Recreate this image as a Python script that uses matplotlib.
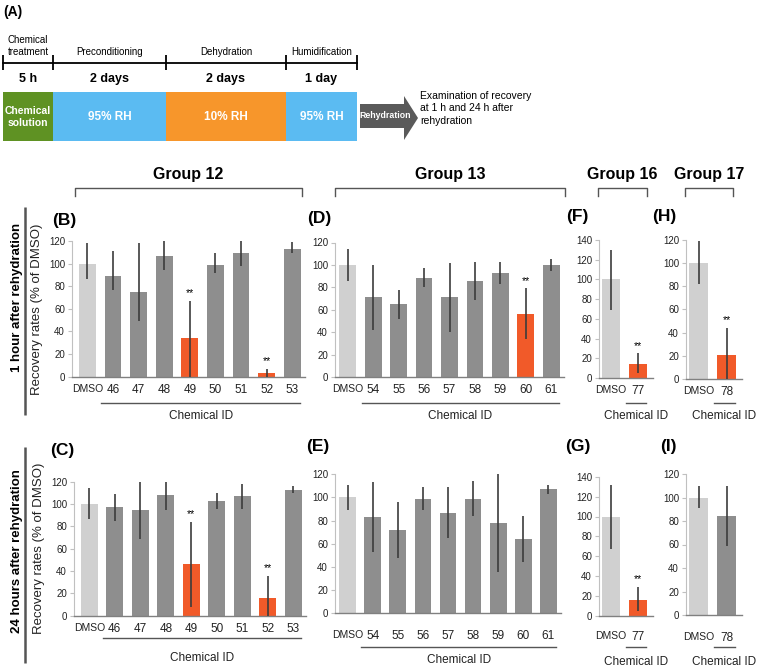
import numpy as np
import matplotlib
matplotlib.use("Agg")
import matplotlib.pyplot as plt
import matplotlib.transforms as mtransforms
from matplotlib.patches import Rectangle, Polygon

plt.rcParams['font.family'] = ['Liberation Sans', 'DejaVu Sans']

# ---- (A) schedule ----
stage_names = ["Chemical\ntreatment", "Preconditioning", "Dehydration", "Humidification"]
stage_times = ["5 h", "2 days", "2 days", "1 day"]
stage_conds = ["Chemical\nsolution", "95% RH", "10% RH", "95% RH"]
stage_colors = ["#5f9223", "#5bbbf2", "#f7962b", "#5bbbf2"]

# ---- recovery rates (% of DMSO), error bar lower / upper ends ----
ids_12 = ["DMSO", "46", "47", "48", "49", "50", "51", "52", "53"]
g12_1h = [100, 89, 75, 107, 34, 99, 109, 3, 113]
g12_1h_lo = [86, 77, 49, 94, 0, 92, 98, 0, 109]
g12_1h_hi = [118, 111, 118, 121, 67, 109, 121, 6.5, 119]
g12_1h_sig = [0, 0, 0, 0, 1, 0, 0, 1, 0]

g12_24h = [100, 97, 95, 108, 46, 103, 107, 16, 113]
g12_24h_lo = [87, 85, 69, 95, 8, 96, 96, 0, 110]
g12_24h_hi = [114, 109, 121, 121, 84, 110, 118, 36, 116]
g12_24h_sig = [0, 0, 0, 0, 1, 0, 0, 1, 0]

ids_13 = ["DMSO", "54", "55", "56", "57", "58", "59", "60", "61"]
g13_1h = [100, 71, 65, 88, 71, 86, 93, 56, 100]
g13_1h_lo = [86, 42, 52, 80, 40, 69, 83, 34, 95]
g13_1h_hi = [114, 100, 78, 97, 102, 103, 103, 79, 105]
g13_1h_sig = [0, 0, 0, 0, 0, 0, 0, 1, 0]

g13_24h = [100, 83, 72, 99, 87, 99, 78, 64, 107]
g13_24h_lo = [89, 53, 48, 89, 65, 84, 36, 44, 103]
g13_24h_hi = [111, 113, 96, 109, 109, 114, 121, 84, 111]
g13_24h_sig = [0, 0, 0, 0, 0, 0, 0, 0, 0]

ids_16 = ["DMSO", "77"]
g16_1h = [100, 14.5]
g16_1h_lo = [69, 5]
g16_1h_hi = [130, 25]
g16_1h_sig = [0, 1]
g16_24h = [100, 16]
g16_24h_lo = [67, 5]
g16_24h_hi = [132, 29]
g16_24h_sig = [0, 1]

ids_17 = ["DMSO", "78"]
g17_1h = [100, 21]
g17_1h_lo = [82, 0]
g17_1h_hi = [119, 44]
g17_1h_sig = [0, 1]
g17_24h = [100, 84]
g17_24h_lo = [91, 59]
g17_24h_hi = [110, 110]
g17_24h_sig = [0, 0]

C_DMSO = "#d0d0d0"
C_BAR = "#8e8e8e"
C_SIG = "#f15a29"

W, H = 762, 668
fig = plt.figure(figsize=(W / 100, H / 100), dpi=100)

# overlay in pixel units for the schematic and annotations
ov = fig.add_axes([0, 0, 1, 1])
ov.set_xlim(0, W)
ov.set_ylim(H, 0)
ov.set_autoscale_on(False)
ov.axis('off')


def panel(l, t, r, b):
    ax = fig.add_axes([l / W, 1 - b / H, (r - l) / W, (b - t) / H])
    ax.set_facecolor('none')
    return ax


def draw_bars(ax, ids, mean, lo, hi, sig, ymax, xlim, pad, line_y, text_y):
    x = np.arange(len(ids))
    mean = np.asarray(mean, float)
    lo = np.asarray(lo, float)
    hi = np.asarray(hi, float)
    colors = [C_DMSO if s == "DMSO" else (C_SIG if g else C_BAR) for s, g in zip(ids, sig)]
    ax.bar(x, mean, width=0.66, color=colors, zorder=2)
    ax.errorbar(x, mean, yerr=[mean - lo, hi - mean], fmt='none', ecolor='#3c3c3c',
                elinewidth=1.2, capsize=0, zorder=3)
    for xi, g, h in zip(x, sig, hi):
        if g:
            ax.annotate("**", (xi, h), xytext=(0, 2), textcoords='offset points',
                        ha='center', va='bottom', fontsize=7.5)
    ax.set_xlim(*xlim)
    ax.set_ylim(0, ymax)
    ax.set_yticks(np.arange(0, ymax + 1, 20))
    ax.set_xticks(x)
    labels = ax.set_xticklabels(ids)
    for lbl in labels:
        lbl.set_fontsize(7.5 if lbl.get_text() == "DMSO" else 8.5)
    ax.tick_params(axis='y', length=3, width=0.8, color='#c0c0c0', labelsize=7,
                   pad=2, labelcolor='#222222')
    ax.tick_params(axis='x', length=0, pad=pad, labelcolor='#222222')
    for s in ['top', 'right']:
        ax.spines[s].set_visible(False)
    ax.spines['left'].set_color('#c0c0c0')
    ax.spines['left'].set_linewidth(0.8)
    ax.spines['bottom'].set_color('#808080')
    ax.spines['bottom'].set_linewidth(1.0)
    # "Chemical ID" underline
    trans = mtransforms.blended_transform_factory(ax.transData, ov.transData)
    x0, x1 = 0.55, len(ids) - 0.7
    ov.plot([x0, x1], [line_y, line_y], color='#555555', lw=1.0, transform=trans)
    ov.text((x0 + x1) / 2, text_y, "Chemical ID", transform=trans, ha='center',
            va='center', fontsize=8.5, color='#222222')


axB = panel(72, 241, 305, 376.7)
draw_bars(axB, ids_12, g12_1h, g12_1h_lo, g12_1h_hi, g12_1h_sig, 120, (-0.6, 8.5), 5, 403, 416)
axC = panel(74, 481.7, 306, 615.7)
draw_bars(axC, ids_12, g12_24h, g12_24h_lo, g12_24h_hi, g12_24h_sig, 120, (-0.6, 8.5), 5, 638, 658)
axD = panel(335, 242.5, 564, 377)
draw_bars(axD, ids_13, g13_1h, g13_1h_lo, g13_1h_hi, g13_1h_sig, 120, (-0.5, 8.5), 5, 403, 416)
axE = panel(335, 474.3, 561, 613.3)
draw_bars(axE, ids_13, g13_24h, g13_24h_lo, g13_24h_hi, g13_24h_sig, 120, (-0.5, 8.5), 12, 647, 660)
axF = panel(599, 240, 653, 378)
draw_bars(axF, ids_16, g16_1h, g16_1h_lo, g16_1h_hi, g16_1h_sig, 140, (-0.45, 1.55), 5, 403, 416)
axG = panel(599, 476.7, 653, 616)
draw_bars(axG, ids_16, g16_24h, g16_24h_lo, g16_24h_hi, g16_24h_sig, 140, (-0.45, 1.55), 11, 647, 662)
axH = panel(686, 240, 742, 379)
draw_bars(axH, ids_17, g17_1h, g17_1h_lo, g17_1h_hi, g17_1h_sig, 120, (-0.45, 1.55), 5, 403, 416)
axI = panel(686, 474, 742, 615)
draw_bars(axI, ids_17, g17_24h, g17_24h_lo, g17_24h_hi, g17_24h_sig, 120, (-0.45, 1.55), 12, 647, 662)

for ax in (axB, axC):
    ax.set_ylabel("Recovery rates (% of DMSO)", fontsize=9.5, labelpad=4, color='#222222')

# ---- (A) schematic ----
ov.text(3, 12, "(A)", fontsize=10, fontweight='bold', va='center', ha='left')
bounds = [3, 53, 166, 286, 357]
ov.plot([bounds[0], bounds[-1]], [63, 63], color='black', lw=1.3)
ov.vlines(bounds, 55, 70, color='black', lw=1.3)
for i in range(4):
    cx = (bounds[i] + bounds[i + 1]) / 2
    ov.text(cx, 57, stage_names[i], ha='center', va='bottom', fontsize=7,
            fontweight='medium', linespacing=1.3)
    ov.text(cx, 79, stage_times[i], ha='center', va='center', fontsize=9,
            fontweight='bold')
    ov.add_patch(Rectangle((bounds[i], 92), bounds[i + 1] - bounds[i], 49,
                           facecolor=stage_colors[i], edgecolor='none'))
    ov.text(cx, 116.5, stage_conds[i], ha='center', va='center', color='white',
            fontsize=7.5 if i == 0 else 8.5, fontweight='bold', linespacing=1.25)
ov.add_patch(Polygon([(360, 104), (404, 104), (404, 96), (418, 118), (404, 140),
                      (404, 128), (360, 128)], closed=True, facecolor='#5a5a5a',
                     edgecolor='none'))
ov.text(385, 116, "Rehydration", ha='center', va='center', color='white',
        fontsize=6.3, fontweight='bold')
ov.text(420, 91, "Examination of recovery\nat 1 h and 24 h after\nrehydration",
        ha='left', va='top', fontsize=7.5, linespacing=1.3)

# ---- group brackets ----
groups = ["Group 12", "Group 13", "Group 16", "Group 17"]
brackets = [(75, 302), (335, 565), (598, 647), (685, 733)]
for name, (x0, x1) in zip(groups, brackets):
    ov.plot([x0, x0, x1, x1], [196, 188, 188, 196], color='#555555', lw=1.0)
    ov.text((x0 + x1) / 2, 175, name, ha='center', va='center', fontsize=11.5,
            fontweight='bold')

# ---- row labels ----
ov.text(17, 297, "1 hour after rehydration", rotation=90, ha='center', va='center',
        fontsize=9.5, fontweight='bold')
ov.text(17, 551, "24 hours after rehydration", rotation=90, ha='center', va='center',
        fontsize=9.5, fontweight='bold')
ov.vlines(25, 207, 415, color='#555555', lw=1.8)
ov.vlines(25, 447, 663, color='#555555', lw=1.8)

# ---- panel letters ----
letters = ["(B)", "(C)", "(D)", "(E)", "(F)", "(G)", "(H)", "(I)"]
letter_pos = [(52, 221), (50, 450), (307, 218), (306, 446),
              (566, 217), (565, 447), (652, 217), (660, 447)]
for t, (px, py) in zip(letters, letter_pos):
    ov.text(px, py, t, ha='left', va='center', fontsize=12.5, fontweight='bold')

fig.savefig("out.png", dpi=100)
